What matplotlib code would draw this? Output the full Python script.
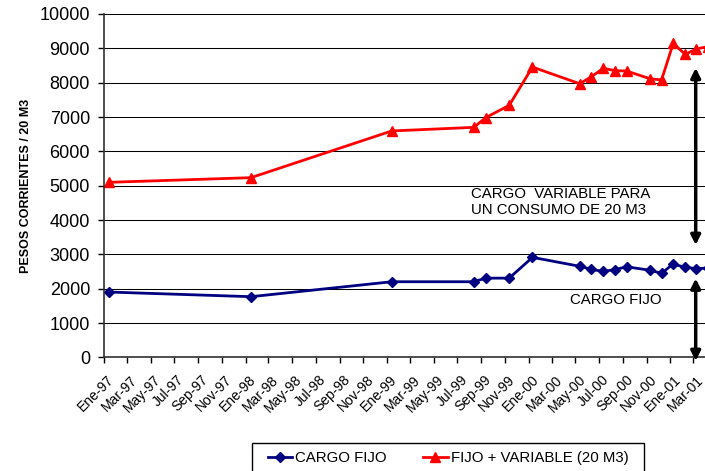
import matplotlib
matplotlib.use("Agg")
import matplotlib.pyplot as plt
import matplotlib.patches as mpatches
import matplotlib.transforms as mtransforms
import pandas as pd

plt.rcParams['font.family'] = ['Liberation Sans', 'DejaVu Sans']

# fechas de cada tarifa
fechas = ['1997-01-15', '1998-01-15', '1999-01-13', '1999-08-13', '1999-09-12',
          '1999-11-12', '2000-01-11', '2000-05-12', '2000-06-11', '2000-07-12',
          '2000-08-11', '2000-09-10', '2000-11-09', '2000-12-09', '2001-01-08',
          '2001-02-08', '2001-03-09', '2001-04-08']
cargo_fijo = [1905, 1770, 2205, 2205, 2310, 2310, 2915, 2655, 2565, 2505,
              2560, 2640, 2540, 2450, 2725, 2620, 2590, 2600]
fijo_variable = [5100, 5235, 6595, 6700, 6980, 7340, 8455, 7970, 8175, 8420,
                 8350, 8340, 8115, 8080, 9145, 8825, 8985, 9050]

etiquetas_x = ['Ene-97', 'Mar-97', 'May-97', 'Jul-97', 'Sep-97', 'Nov-97',
               'Ene-98', 'Mar-98', 'May-98', 'Jul-98', 'Sep-98', 'Nov-98',
               'Ene-99', 'Mar-99', 'May-99', 'Jul-99', 'Sep-99', 'Nov-99',
               'Ene-00', 'Mar-00', 'May-00', 'Jul-00', 'Sep-00', 'Nov-00',
               'Ene-01', 'Mar-01']
meses = {'Ene': 1, 'Mar': 3, 'May': 5, 'Jul': 7, 'Sep': 9, 'Nov': 11}

x = pd.to_datetime(fechas)
ticks_x = [pd.Timestamp(2000 + int(e[-2:]) if int(e[-2:]) < 50 else 1900 + int(e[-2:]),
                        meses[e[:3]], 1) for e in etiquetas_x]

fig = plt.figure(figsize=(7.05, 4.71), dpi=100)
ax = fig.add_axes([0.1475, 0.241, 0.8525, 0.7293])

ax.plot(x, cargo_fijo, color='#000080', lw=2, marker='D', ms=5.5,
        label='CARGO FIJO')
ax.plot(x, fijo_variable, color='#FF0000', lw=2, marker='^', ms=7,
        label='FIJO + VARIABLE (20 M3)')

ax.set_ylim(0, 10000)
ax.set_yticks(range(0, 10001, 1000))
ax.set_xlim(pd.Timestamp('1997-01-01'), pd.Timestamp('2001-03-31'))
ax.set_xticks(ticks_x)
ax.set_xticklabels(etiquetas_x, rotation=45, ha='right', va='top',
                   rotation_mode='anchor', fontsize=10)
ax.tick_params(axis='x', length=4, width=1, pad=7)
ax.tick_params(axis='y', length=4, width=1, pad=6, labelsize=13)
desplaza = mtransforms.ScaledTranslation(0.03, 0, fig.dpi_scale_trans)
for lab in ax.get_xticklabels():
    lab.set_transform(lab.get_transform() + desplaza)

ax.grid(axis='y', color='black', lw=0.75)
ax.set_axisbelow(True)
for s in ['top', 'right']:
    ax.spines[s].set_visible(False)
for s in ['left', 'bottom']:
    ax.spines[s].set_color('#303030')
    ax.spines[s].set_linewidth(1.2)

ax.set_ylabel('PESOS CORRIENTES / 20 M3', fontsize=9, fontweight='bold')
ax.yaxis.set_label_coords(-0.12, 0.5)

# flechas dobles
xf = pd.Timestamp('2001-03-07')
flecha = dict(arrowstyle='<|-|>', lw=2.5, color='black', mutation_scale=14,
              shrinkA=0, shrinkB=0)
ax.annotate('', xy=(xf, 8430), xytext=(xf, 3275), arrowprops=flecha,
            annotation_clip=False)
ax.annotate('', xy=(xf, 2300), xytext=(xf, -100), arrowprops=flecha,
            annotation_clip=False)

ax.text(pd.Timestamp('1999-08-06'), 4960, 'CARGO  VARIABLE PARA\nUN CONSUMO DE 20 M3',
        fontsize=10.8, ha='left', va='top', linespacing=1.15)
ax.text(pd.Timestamp('2000-04-17'), 1557, 'CARGO FIJO', fontsize=10.8,
        ha='left', va='baseline')

# leyenda con marco propio (mas ancho que alto)
fig.patches.append(mpatches.Rectangle((251.7 / 705, -0.05), (644.3 - 251.7) / 705,
                                      0.05 + 1 - 443 / 471, transform=fig.transFigure,
                                      fill=False, edgecolor='black', lw=1))
fig.legend(loc='center', bbox_to_anchor=(0.6355, 0.027), ncol=2,
           fontsize=10.8, frameon=False, handlelength=1.65,
           handletextpad=0.2, columnspacing=2.4, borderaxespad=0, borderpad=0)

fig.savefig('out.png', dpi=100)
